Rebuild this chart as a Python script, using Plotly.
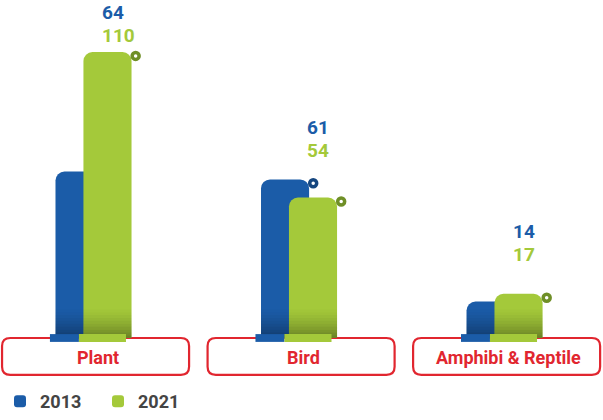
import plotly.graph_objects as go

categories = ["Plant", "Bird", "Amphibi & Reptile"]
years = ["2013", "2021"]
values_2013 = [64, 61, 14]
values_2021 = [110, 54, 17]

BLUE = "#1b5ca8"
GREEN = "#a4c93a"
BLUE_CURL = "#15467f"
GREEN_CURL = "#6f8f27"
RED = "#e1262f"
TEXT_GRAY = "#444444"
FONT = "Roboto"

BAR_WIDTH = 0.234
BAR_SHIFT = 0.068
LABEL_LIFT = [17, 29, 39]  # px gap between tallest bar and first label
SHADE_HEIGHT = 11
SHADE_STEPS = 10

x = list(range(len(categories)))


def rounded_box(x0, x1, y0, y1, rx, ry):
    return (
        f"M{x0 + rx},{y1} L{x1 - rx},{y1} Q{x1},{y1} {x1},{y1 - ry} "
        f"L{x1},{y0 + ry} Q{x1},{y0} {x1 - rx},{y0} "
        f"L{x0 + rx},{y0} Q{x0},{y0} {x0},{y0 + ry} "
        f"L{x0},{y1 - ry} Q{x0},{y1} {x0 + rx},{y1} Z"
    )


def add_series(fig, values, name, color, curl_color, shift, z):
    fig.add_trace(go.Bar(
        x=x, y=values, name=name, zorder=z,
        offset=shift - BAR_WIDTH / 2, width=BAR_WIDTH,
        marker=dict(color=color, line_width=0, cornerradius=9),
        hovertemplate="%{y}<extra>" + name + "</extra>",
    ))
    # darker shading towards the base of each bar
    step = SHADE_HEIGHT / SHADE_STEPS
    for i in range(SHADE_STEPS):
        alpha = 0.34 * (1 - i / SHADE_STEPS) ** 1.4
        fig.add_trace(go.Bar(
            x=x, zorder=z,
            y=[max(0, min(step, v - i * step)) for v in values],
            base=[i * step] * len(values),
            offset=shift - BAR_WIDTH / 2, width=BAR_WIDTH,
            marker=dict(color=f"rgba(0,0,0,{alpha:.3f})", line_width=0),
            showlegend=False, hoverinfo="skip",
        ))
    # scroll curl at the top right corner
    fig.add_trace(go.Scatter(
        x=[xi + shift + BAR_WIDTH / 2 + 0.02 for xi in x],
        y=[v - 1.5 for v in values],
        mode="markers", zorder=z,
        marker=dict(size=7, color="white", line=dict(color=curl_color, width=3.5)),
        showlegend=False, hoverinfo="skip",
    ))


fig = go.Figure()
add_series(fig, values_2013, years[0], BLUE, BLUE_CURL, -BAR_SHIFT, 0)
add_series(fig, values_2021, years[1], GREEN, GREEN_CURL, BAR_SHIFT, 1)

# base strips under each pair
fig.add_trace(go.Bar(
    x=x, y=[3] * len(x), base=[-1.5] * len(x), zorder=2,
    offset=-0.212, width=0.141,
    marker=dict(color=BLUE, line_width=0),
    showlegend=False, hoverinfo="skip",
))
fig.add_trace(go.Bar(
    x=x, y=[3] * len(x), base=[-1.5] * len(x), zorder=2,
    offset=-0.071, width=0.229,
    marker=dict(color=GREEN, line_width=0),
    showlegend=False, hoverinfo="skip",
))

# value labels
for xi, v13, v21, lift in zip(x, values_2013, values_2021, LABEL_LIFT):
    top = max(v13, v21)
    fig.add_annotation(
        x=xi + 0.03, y=top, text=str(v21), showarrow=False,
        xanchor="left", yanchor="middle", yshift=lift,
        font=dict(family=FONT, size=19, color=GREEN, weight="bold"),
    )
    fig.add_annotation(
        x=xi + 0.03, y=top, text=str(v13), showarrow=False,
        xanchor="left", yanchor="middle", yshift=lift + 23,
        font=dict(family=FONT, size=19, color=BLUE, weight="bold"),
    )

# category boxes
for xi, cat in zip(x, categories):
    fig.add_shape(
        type="path", xref="x", yref="y", layer="below",
        path=rounded_box(xi - 0.445, xi + 0.465, -14.2, 0, 0.04, 3.1),
        line=dict(color=RED, width=2.2), fillcolor="white",
    )
    fig.add_annotation(
        x=xi + 0.02, y=-7.6, text=cat, showarrow=False,
        font=dict(family=FONT, size=18, color=RED, weight="bold"),
    )

fig.update_layout(
    width=603, height=420,
    barmode="overlay",
    margin=dict(l=0, r=0, t=0, b=0),
    paper_bgcolor="white", plot_bgcolor="white",
    xaxis=dict(range=[-0.455, 2.479], visible=False, fixedrange=True),
    yaxis=dict(range=[-31.54, 130], visible=False, fixedrange=True),
    legend=dict(
        orientation="h", x=0, y=0, xanchor="left", yanchor="bottom",
        font=dict(family=FONT, size=18, color=TEXT_GRAY, weight="bold"),
        itemwidth=30, traceorder="normal",
        entrywidth=53, entrywidthmode="pixels",
    ),
    font=dict(family=FONT),
)

fig.write_html(
    "out.html",
    config={"displayModeBar": False},
    post_script="document.body.style.margin='0';",
)
